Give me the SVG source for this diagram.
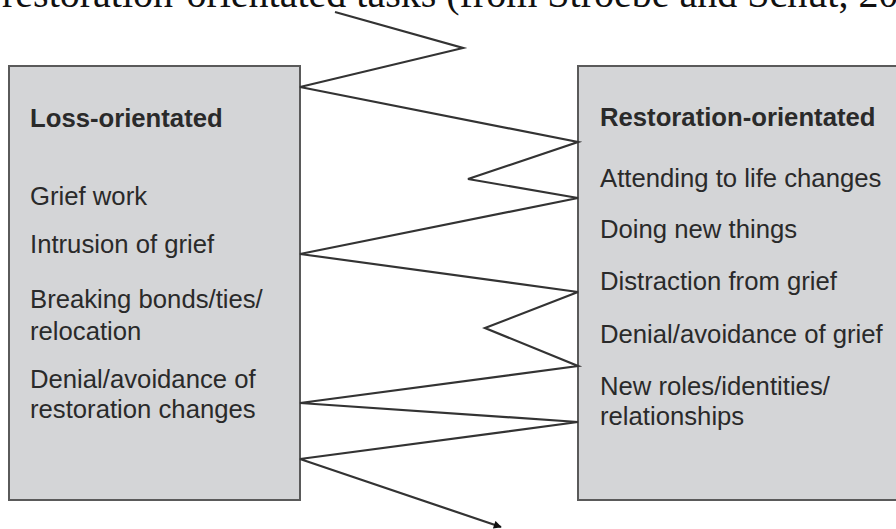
<svg xmlns="http://www.w3.org/2000/svg" width="896" height="529" viewBox="0 0 896 529">
<style>
.box{fill:#d4d5d7;stroke:#5a5a5a;stroke-width:2}
.t{font-family:"Liberation Sans",Arial,sans-serif;font-size:25.7px;fill:#2a2a2a}
.h{font-weight:bold}
.cap{font-family:"Liberation Serif","Times New Roman",serif;font-size:40px;fill:#111}
.zz{fill:none;stroke:#333;stroke-width:2.2;stroke-linejoin:miter}
</style>
<defs>
<marker id="arr" viewBox="0 0 10 10" refX="9" refY="5" markerWidth="9" markerHeight="8" markerUnits="userSpaceOnUse" orient="auto">
<path d="M0,0 L10,5 L0,10 z" fill="#111"/>
</marker>
</defs>
<text class="cap" x="2" y="7">restoration-orientated tasks (from Stroebe and Schut, 20</text>
<g id="loss">
<rect class="box" x="9" y="66" width="291" height="434"/>
<text class="t h" x="30" y="127">Loss-orientated</text>
<text class="t" x="30" y="205">Grief work</text>
<text class="t" x="30" y="253">Intrusion of grief</text>
<text class="t" x="30" y="308">Breaking bonds/ties/</text>
<text class="t" x="30" y="340">relocation</text>
<text class="t" x="30" y="388">Denial/avoidance of</text>
<text class="t" x="30" y="418">restoration changes</text>
</g>
<g id="restoration">
<rect class="box" x="578" y="66" width="330" height="434"/>
<text class="t h" x="600" y="126">Restoration-orientated</text>
<text class="t" x="600" y="187">Attending to life changes</text>
<text class="t" x="600" y="238">Doing new things</text>
<text class="t" x="600" y="290">Distraction from grief</text>
<text class="t" x="600" y="343">Denial/avoidance of grief</text>
<text class="t" x="600" y="395">New roles/identities/</text>
<text class="t" x="600" y="425">relationships</text>
</g>
<g id="connectors">
<polyline class="zz" marker-end="url(#arr)" points="335,12 463,48 300,87 578,142 468,179 578,198 300,254 578,292 485,328 578,366 300,403 578,422 300,459 501,527"/>
</g>
</svg>
